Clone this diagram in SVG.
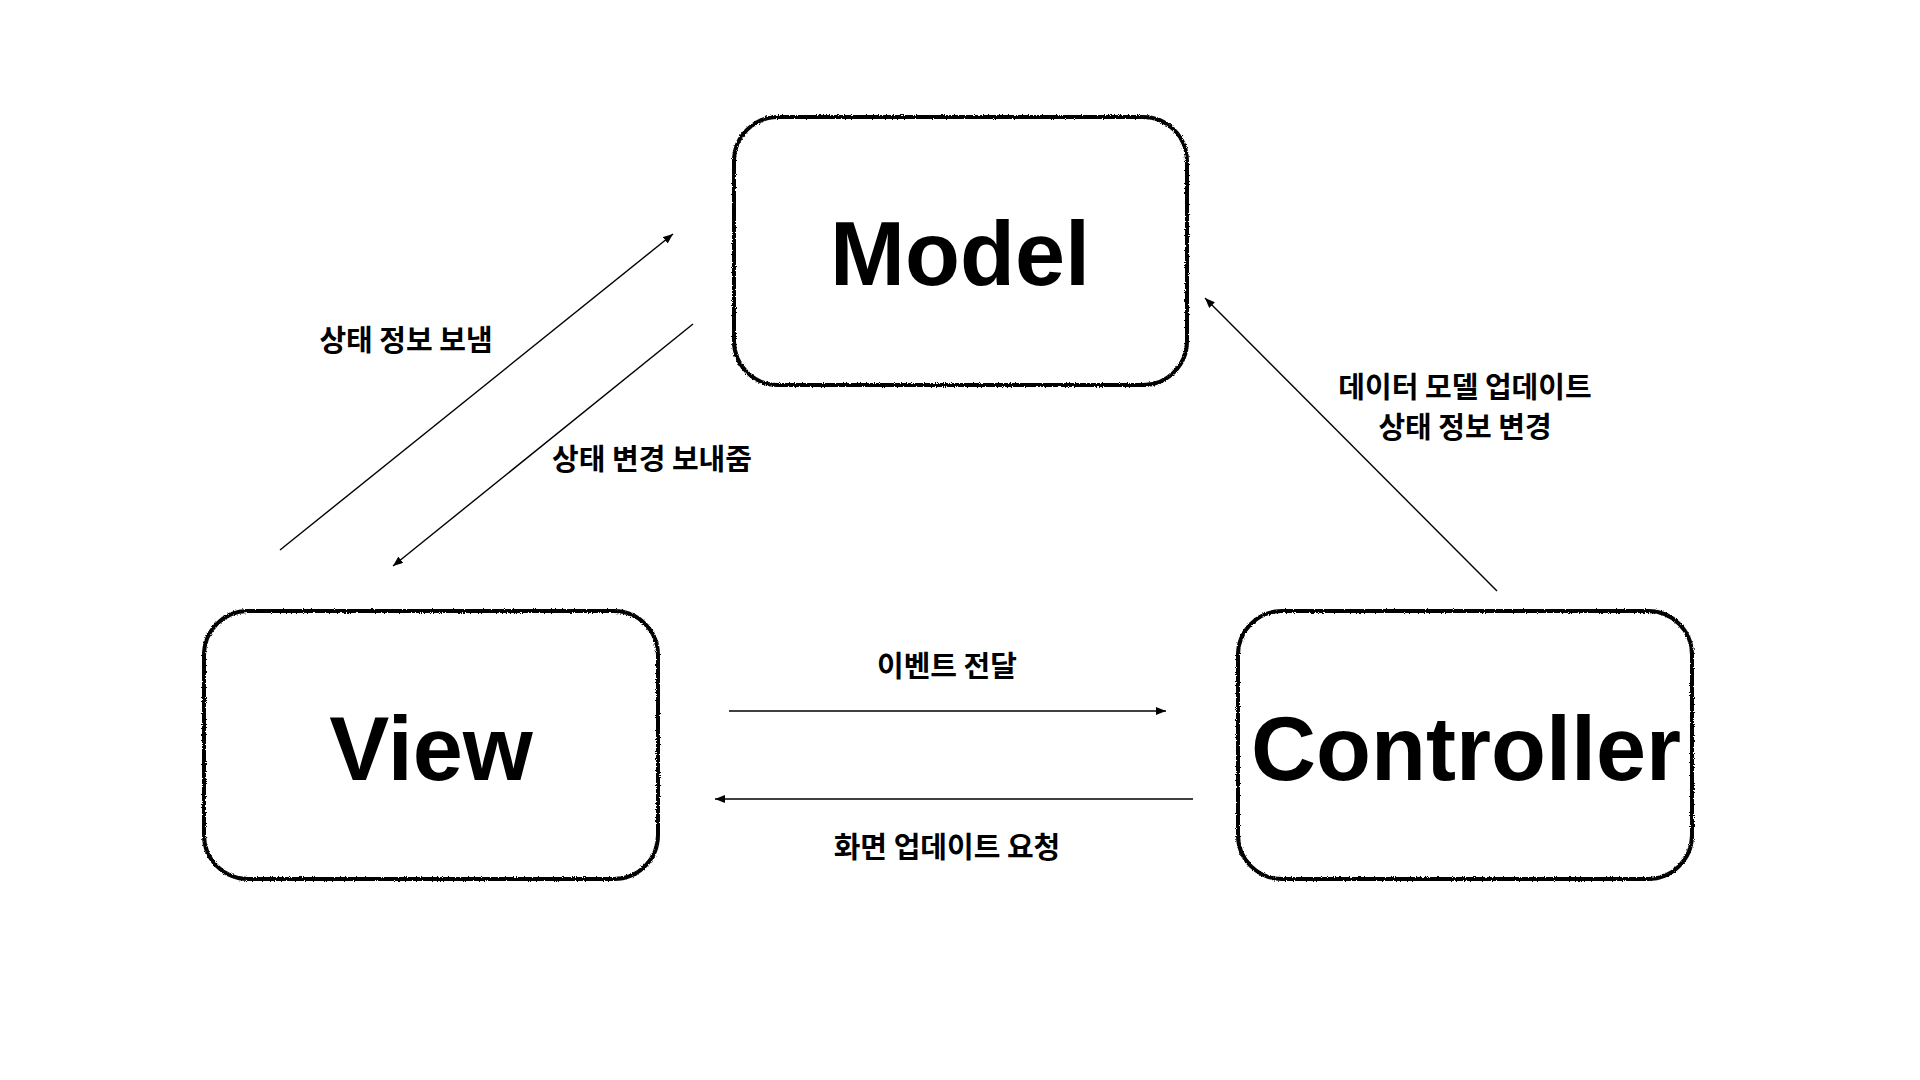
<svg xmlns="http://www.w3.org/2000/svg" width="1920" height="1080" viewBox="0 0 1920 1080">
<style>
.box{fill:#fff;stroke:#000;stroke-width:4;filter:url(#rough)}
.title{font-family:"Liberation Sans",Arial,sans-serif;font-weight:bold;font-size:90px;fill:#000;text-anchor:middle}
.lbl{font-family:"Noto Sans CJK KR","Noto Sans",sans-serif;font-weight:bold;font-size:29px;fill:#000;text-anchor:middle}
.conn{stroke:#000;stroke-width:1.4;fill:none;marker-end:url(#ah)}
</style>
<defs>
<filter id="rough" x="-5%" y="-5%" width="110%" height="110%">
<feTurbulence type="fractalNoise" baseFrequency="0.9" numOctaves="2" seed="3" result="n"/>
<feDisplacementMap in="SourceGraphic" in2="n" scale="3" xChannelSelector="R" yChannelSelector="G"/>
</filter>
<marker id="ah" viewBox="0 0 10 8" refX="10" refY="4" markerWidth="10" markerHeight="8" markerUnits="userSpaceOnUse" orient="auto">
<path d="M0,0 L10,4 L0,8 Z" fill="#000"/>
</marker>
</defs>
<rect width="1920" height="1080" fill="#fff"/>
<g id="model">
<rect class="box" x="734" y="117" width="453" height="268" rx="44" ry="44"/>
<text class="title" x="960" y="285">Model</text>
</g>
<g id="view">
<rect class="box" x="204" y="611" width="454" height="268" rx="44" ry="44"/>
<text class="title" x="431" y="780">View</text>
</g>
<g id="controller">
<rect class="box" x="1238" y="611" width="454" height="268" rx="44" ry="44"/>
<text class="title" x="1466" y="780">Controller</text>
</g>
<g id="connectors">
<line class="conn" x1="280" y1="550" x2="673" y2="234"/>
<line class="conn" x1="693" y1="324" x2="393" y2="566"/>
<line class="conn" x1="1497" y1="591" x2="1205" y2="298"/>
<line class="conn" x1="729" y1="711" x2="1166" y2="711"/>
<line class="conn" x1="1193" y1="799" x2="715" y2="799"/>
</g>
<g id="labels">
<text class="lbl" x="406" y="351">상태 정보 보냄</text>
<text class="lbl" x="652" y="470">상태 변경 보내줌</text>
<text class="lbl" x="1465" y="398">데이터 모델 업데이트</text>
<text class="lbl" x="1465" y="438">상태 정보 변경</text>
<text class="lbl" x="947" y="677">이벤트 전달</text>
<text class="lbl" x="947" y="858">화면 업데이트 요청</text>
</g>
</svg>
